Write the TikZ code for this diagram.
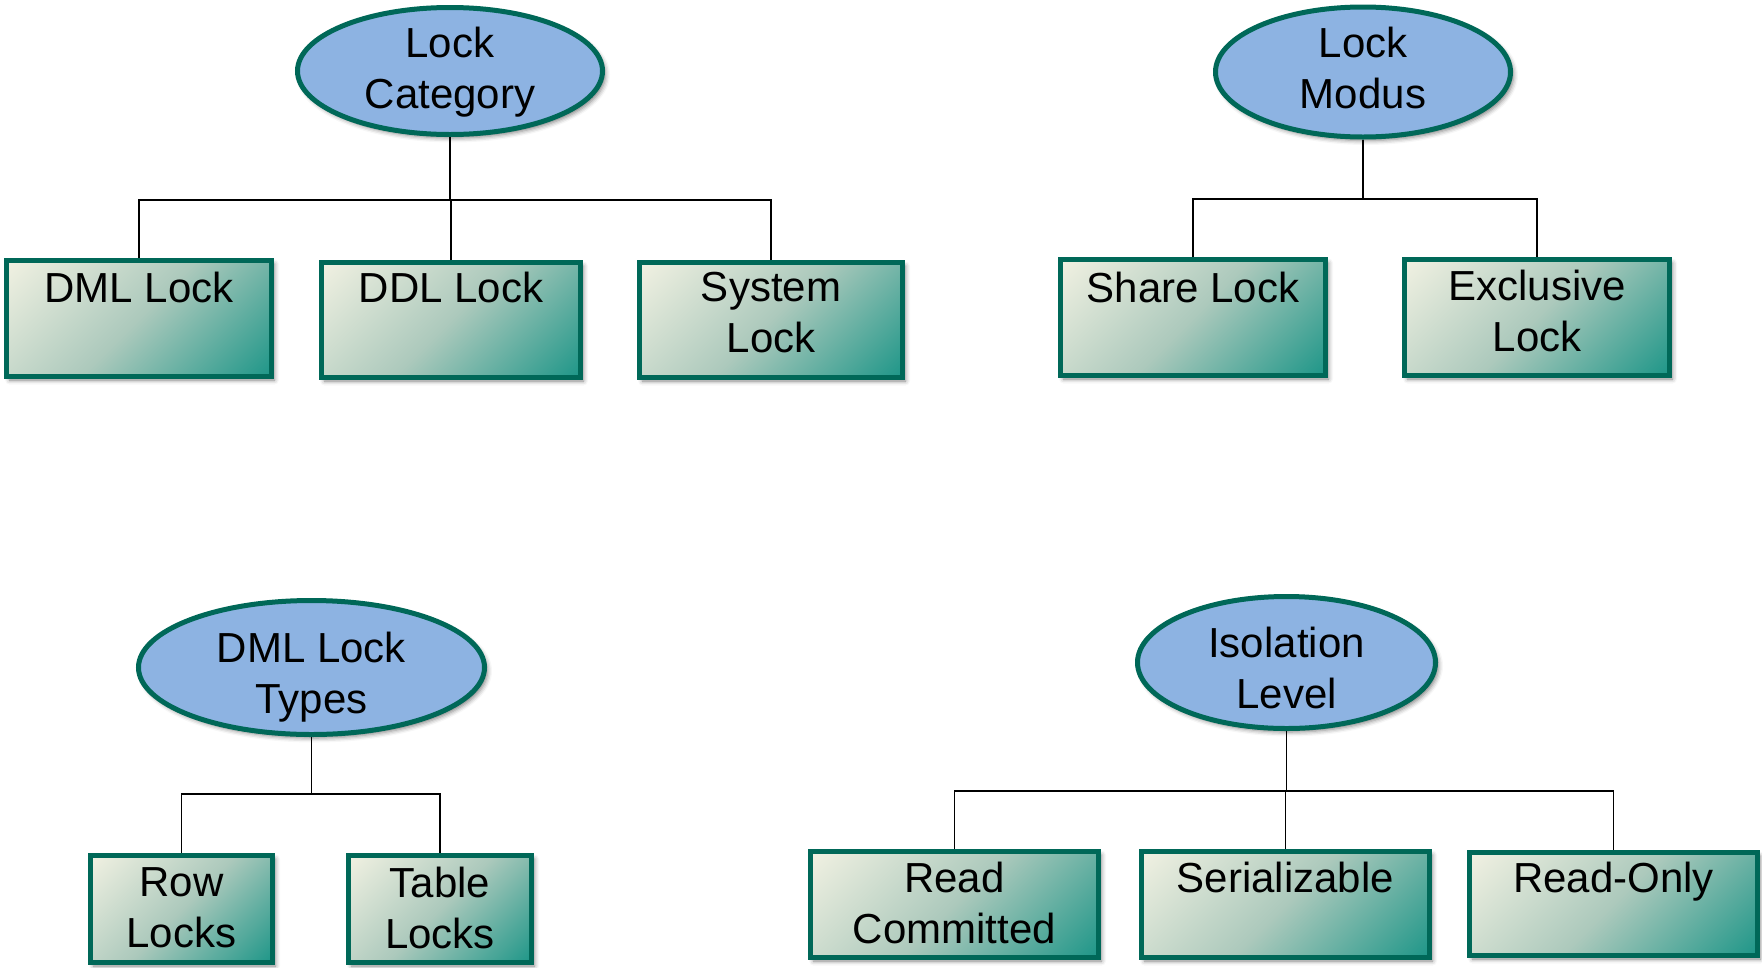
\documentclass[tikz,border=0pt]{standalone}
\usepackage{fontspec}
\setmainfont{Liberation Sans}
\usetikzlibrary{shapes.geometric,shadows.blur}

\definecolor{rim}{RGB}{0,104,88}
\definecolor{ovalfill}{RGB}{141,179,226}
\definecolor{boxlight}{RGB}{241,241,226}
\definecolor{boxmid}{RGB}{172,201,188}
\definecolor{boxdark}{RGB}{30,150,136}

% Fill of the leaf boxes. The shading is stretched with the box, so at 45 degrees
% its bands follow the box diagonal and the corners fall on 14.64bp and 85.36bp.
\pgfdeclareverticalshading{tealbox}{100bp}{color(0bp)=(boxdark); color(14.64bp)=(boxdark); color(50bp)=(boxmid); color(85.36bp)=(boxlight); color(100bp)=(boxlight)}

\tikzset{
  softshadow/.style={blur shadow={shadow xshift=3pt, shadow yshift=-3.5pt, shadow blur radius=4.5pt, shadow opacity=50}},
  oval/.style={ellipse, draw=rim, line width=5pt, fill=ovalfill, inner sep=0pt, softshadow},
  leaf/.style 2 args={rectangle, draw=rim, line width=5pt, inner sep=0pt,
    minimum width=#1pt, minimum height=#2pt, softshadow,
    shade, shading=tealbox, shading angle=45},
  lbl/.style={anchor=north, inner sep=0pt, align=center, font=\fontsize{42}{51}\selectfont},
  wire/.style={draw=black, line width=1.5pt},
}

\begin{document}
\begin{tikzpicture}[x=1pt,y=-1pt]
\useasboundingbox (0,0) rectangle (1762,967);

% ---------- Lock Category ----------
\node[oval, minimum width=305pt, minimum height=127pt] (cat) at (450,71) {};
\node[lbl] (catT) at (450,27) {Lock\\Category};
\node[leaf={265}{116}] (dml) at (139,318.5) {};
\node[leaf={259}{115}] (ddl) at (451,320) {};
\node[leaf={263}{115}] (sys) at (771,320) {};
\node[lbl] (dmlT) at (139,272) {DML Lock};
\node[lbl] (ddlT) at (451,272) {DDL Lock};
\node[lbl] (sysT) at (771,272) {System\\Lock};
\coordinate (catJ) at (450,200);
\draw[wire] (cat.south) -- (catJ);
\draw[wire] (dml.north) |- (catJ) -| (sys.north);
\draw[wire] (ddl.north) -- (ddl.north |- catJ);

% ---------- Lock Modus ----------
\node[oval, minimum width=295pt, minimum height=130pt] (mod) at (1363,72) {};
\node[lbl] (modT) at (1363,27) {Lock\\Modus};
\node[leaf={265}{116}] (shr) at (1193,317.5) {};
\node[leaf={265}{116}] (exc) at (1537,317.5) {};
\node[lbl] (shrT) at (1193,272) {Share Lock};
\node[lbl] (excT) at (1537,270) {Exclusive\\Lock};
\coordinate (modJ) at (1363,199);
\draw[wire] (mod.south) -- (modJ);
\draw[wire] (shr.north) |- (modJ) -| (exc.north);

% ---------- DML Lock Types ----------
\node[oval, minimum width=346pt, minimum height=134pt] (typ) at (311.5,667.5) {};
\node[lbl] (typT) at (311.5,632) {DML Lock\\Types};
\node[leaf={182}{107}] (row) at (181.5,909) {};
\node[leaf={183}{107}] (tab) at (440,909) {};
\node[lbl] (rowT) at (181.5,867) {Row\\Locks};
\node[lbl] (tabT) at (440,867) {Table\\Locks};
\coordinate (typJ) at (311.5,794);
\draw[wire] (typ.south) -- (typJ);
\draw[wire] (row.north) |- (typJ) -| (tab.north);

% ---------- Isolation Level ----------
\node[oval, minimum width=298pt, minimum height=132pt] (iso) at (1286.5,662.5) {};
\node[lbl] (isoT) at (1286.5,627) {Isolation\\Level};
\node[leaf={288}{106}] (rc) at (954.5,904.5) {};
\node[leaf={288}{106}] (ser) at (1285.5,904.5) {};
\node[leaf={288}{103}] (ro) at (1613.5,904) {};
\node[lbl] (rcT) at (954.5,862) {Read\\Committed};
\node[lbl] (serT) at (1285.5,862) {Serializable};
\node[lbl] (roT) at (1613.5,862) {Read-Only};
\coordinate (isoJ) at (1286.5,791);
\draw[wire] (iso.south) -- (isoJ);
\draw[wire] (rc.north) |- (isoJ) -| (ro.north);
\draw[wire] (ser.north) -- (ser.north |- isoJ);
\end{tikzpicture}
\end{document}
